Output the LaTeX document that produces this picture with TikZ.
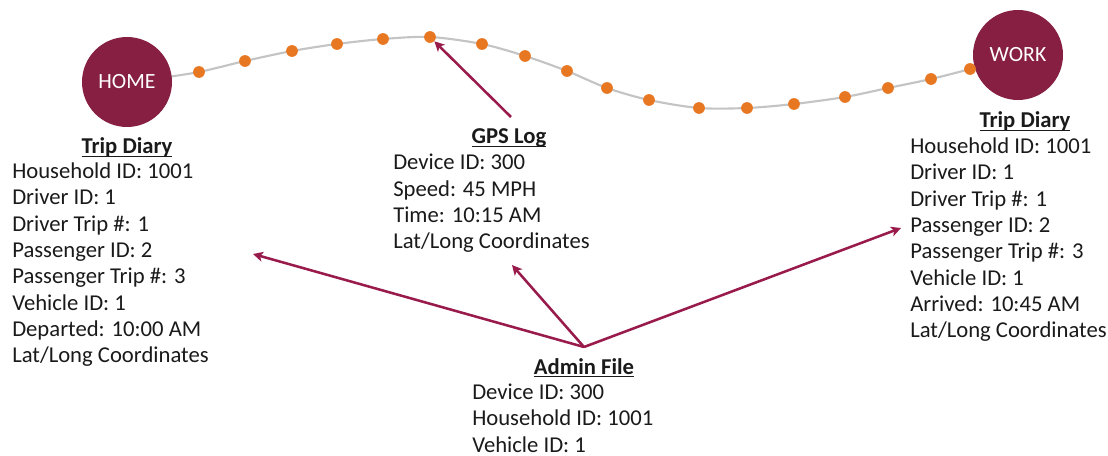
\documentclass[tikz,border=0pt]{standalone}
\usepackage{fontspec}
\setmainfont{Carlito}
\usetikzlibrary{arrows.meta}
\definecolor{vtmaroon}{HTML}{861F41}
\definecolor{arrowred}{HTML}{981B4B}
\definecolor{vtorange}{HTML}{E87722}
\definecolor{curvegray}{HTML}{C4C4C4}
\definecolor{txt}{HTML}{1A1A1A}
\newcommand\ultitle[1]{\setbox0\hbox{\bfseries #1}\rlap{\rule[-2.6pt]{\wd0}{1.3pt}}\box0}
\begin{document}
\begin{tikzpicture}[x=0.75pt,y=-0.75pt,
  place/.style={circle,fill=vtmaroon,minimum size=67.5pt,inner sep=0pt,text=white,font=\fontsize{16.3pt}{19pt}\selectfont},
  gpsdot/.style={circle,fill=vtorange,minimum size=8.8pt,inner sep=0pt},
  title/.style={anchor=base,inner sep=0pt,text=txt,font=\fontsize{17pt}{19.8pt}\selectfont},
  body/.style={anchor=base west,inner sep=0pt,align=left,text=txt,font=\fontsize{17pt}{19.8pt}\selectfont},
  link/.style={draw=arrowred,line width=1.9pt,-{Stealth[length=7.5pt,width=7.5pt,inset=2pt]}},
  route/.style={draw=curvegray,line width=1.6pt}]
\useasboundingbox (0,0) rectangle (1108,456);
% route
\draw[route] plot[smooth] coordinates {(160,78) (199,72) (245,61) (292,51) (337,44) (383,39) (430,37) (482,44) (525,56) (567,71) (607,88) (649,100) (699,108) (747,108) (794,104) (845,97) (888,88) (931,79) (970,69) (990,62)};
\node[place] (home) at (127,82) {HOME};
\node[place] (work) at (1018,55) {WORK};
\foreach \i/\p in {1/{199,72},2/{245,61},3/{292,51},4/{337,44},5/{383,39},6/{430,37},7/{482,44},8/{525,56},9/{567,71},10/{607,88},11/{649,100},12/{699,108},13/{747,108},14/{794,104},15/{845,97},16/{888,88},17/{931,79},18/{970,69}}
  \node[gpsdot] (d\i) at (\p) {};
% left trip diary (anchored at the baseline of the last line)
\node[title] (tdLt) at (127,154) {\ultitle{Trip Diary}};
\node[body] (tdL) at (12,363) {Household ID: 1001\\Driver ID: 1\\Driver Trip \#: 1\\Passenger ID: 2\\Passenger Trip \#: 3\\Vehicle ID: 1\\Departed: 10:00 AM\\Lat/Long Coordinates};
% gps log
\node[title] (gpsT) at (509,144) {\ultitle{GPS Log}};
\node[body] (gps) at (393,249) {Device ID: 300\\Speed: 45 MPH\\Time: 10:15 AM\\Lat/Long Coordinates};
% right trip diary
\node[title] (tdRt) at (1025,128) {\ultitle{Trip Diary}};
\node[body] (tdR) at (910,338) {Household ID: 1001\\Driver ID: 1\\Driver Trip \#: 1\\Passenger ID: 2\\Passenger Trip \#: 3\\Vehicle ID: 1\\Arrived: 10:45 AM\\Lat/Long Coordinates};
% admin file
\node[title] (admT) at (584,374) {\ultitle{Admin File}};
\node[body] (adm) at (472,452) {Device ID: 300\\Household ID: 1001\\Vehicle ID: 1};
% arrows
\coordinate (gA) at (511,117);
\coordinate (aS) at (584,347);
\coordinate (aL) at (253,254);
\coordinate (aG) at (512,265);
\coordinate (aR) at (901,228);
\draw[link] (gA) -- (d6);
\draw[link] (aS) -- (aL);
\draw[link] (aS) -- (aG);
\draw[link] (aS) -- (aR);
\end{tikzpicture}
\end{document}
